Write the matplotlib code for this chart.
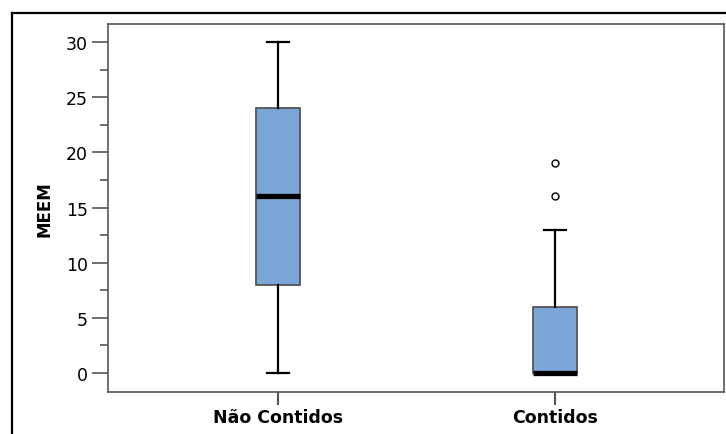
import numpy as np
import matplotlib
matplotlib.use("Agg")
import matplotlib.pyplot as plt
from matplotlib.lines import Line2D

# group labels and box statistics
groups = ["Não Contidos", "Contidos"]
q1 = [8, 0]
med = [16, 0]
q3 = [24, 6]
whis_lo = [0, 0]
whis_hi = [30, 13]
outliers = [[], [16, 19]]

box_color = "#79a6d6"
frame_grey = "#555555"

plt.rcParams["font.family"] = ["DejaVu Sans"]

fig = plt.figure(figsize=(7.26, 4.35), dpi=100)
ax = fig.add_axes([108/726, 42/435, 616/726, 368/435])

stats = []
for i in range(len(groups)):
    stats.append(dict(label=groups[i], q1=q1[i], med=med[i], q3=q3[i],
                      whislo=whis_lo[i], whishi=whis_hi[i], fliers=outliers[i]))

ax.bxp(stats, positions=[1, 2], widths=0.159, patch_artist=True,
       boxprops=dict(facecolor=box_color, edgecolor=frame_grey, linewidth=1.3),
       medianprops=dict(color="black", linewidth=3.8, solid_capstyle="butt"),
       whiskerprops=dict(color="black", linewidth=1.6),
       capprops=dict(color="black", linewidth=1.6),
       capwidths=0.08,
       flierprops=dict(marker="o", markersize=5, markerfacecolor="white",
                       markeredgecolor="black", markeredgewidth=1.0))

ax.set_xlim(0.386, 2.61)
ax.set_ylim(-1.72, 31.63)
ax.set_yticks([0, 5, 10, 15, 20, 25, 30])
ax.set_yticks(np.arange(2.5, 30, 5), minor=True)
ax.set_xticks([1, 2])
ax.set_xticklabels(groups, fontsize=12.5, fontweight="bold")

for s in ax.spines.values():
    s.set_color(frame_grey)
    s.set_linewidth(1.2)

ax.tick_params(axis="y", which="major", length=11.5, width=1.2, color=frame_grey,
               labelsize=12.5, pad=3)
ax.tick_params(axis="y", which="minor", length=5.8, width=1.2, color=frame_grey)
ax.tick_params(axis="x", which="major", length=9.4, width=1.5, color=frame_grey, pad=2)

ax.set_ylabel("MEEM", fontsize=12, fontweight="bold")
ax.yaxis.set_label_coords(-0.088, 0.5)

# outer frame on left and top of the figure
fig.add_artist(Line2D([12/726, 12/726], [0, 1 - 14/435], color="black", linewidth=1.6,
                      transform=fig.transFigure))
fig.add_artist(Line2D([12/726, 1], [1 - 14/435, 1 - 14/435], color="black", linewidth=1.6,
                      transform=fig.transFigure))

fig.savefig("out.png", dpi=100)
